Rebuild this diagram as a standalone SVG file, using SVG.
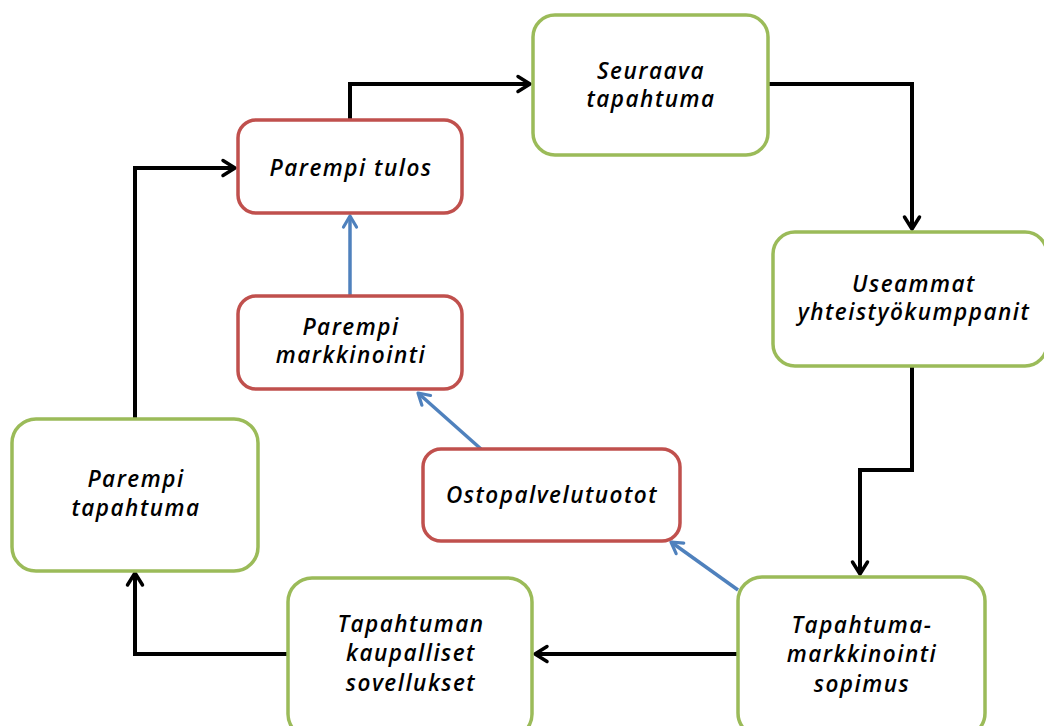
<svg xmlns="http://www.w3.org/2000/svg" width="1044" height="726" viewBox="0 0 1044 726">
  <defs>
    <marker id="arrowBlack" viewBox="0 0 20 20" refX="17" refY="10" markerWidth="20" markerHeight="20" markerUnits="userSpaceOnUse" orient="auto">
      <path d="M5,2.5 L17,10 L5,17.5" fill="none" stroke="#000" stroke-width="3.5" stroke-linecap="round" stroke-linejoin="round"/>
    </marker>
    <marker id="arrowBlue" viewBox="0 0 20 20" refX="17" refY="10" markerWidth="20" markerHeight="20" markerUnits="userSpaceOnUse" orient="auto">
      <path d="M6,3.5 L17,10 L6,16.5" fill="none" stroke="#4F81BD" stroke-width="3.2" stroke-linecap="round" stroke-linejoin="round"/>
    </marker>
  </defs>
  <style>
    .green { fill: #fff; stroke: #9BBB59; stroke-width: 3.5; }
    .red { fill: #fff; stroke: #C0504D; stroke-width: 3.5; }
    .label { font-family: "Open Sans", "Noto Sans", sans-serif; font-style: italic; font-weight: 600; font-size: 22.5px; letter-spacing: 1.5px; fill: #000; text-anchor: middle; }
    .flow { fill: none; stroke: #000; stroke-width: 4; stroke-linejoin: miter; marker-end: url(#arrowBlack); }
    .support { fill: none; stroke: #4F81BD; stroke-width: 3.5; marker-end: url(#arrowBlue); }
  </style>
  <rect width="1044" height="726" fill="#fff"/>

  <g id="connectors">
    <path class="flow" d="M350,120 V84 H530"/>
    <path class="flow" d="M768,84 H912 V229"/>
    <path class="flow" d="M912,366 V470 H860 V574"/>
    <path class="flow" d="M738,654 H535"/>
    <path class="flow" d="M288,654 H135 V573"/>
    <path class="flow" d="M135,419 V168 H235"/>
    <path class="support" d="M350,296 V216"/>
    <path class="support" d="M481,449 L418,393"/>
    <path class="support" d="M738,590 L671,542"/>
  </g>

  <g id="node-seuraava">
    <rect class="green" x="533" y="15" width="235" height="140" rx="22"/>
    <text class="label" x="651" y="79">Seuraava</text>
    <text class="label" x="651" y="107">tapahtuma</text>
  </g>
  <g id="node-parempi-tulos">
    <rect class="red" x="238" y="120" width="224" height="93" rx="18"/>
    <text class="label" x="351" y="176">Parempi tulos</text>
  </g>
  <g id="node-useammat">
    <rect class="green" x="773" y="232" width="274" height="134" rx="22"/>
    <text class="label" x="914" y="292">Useammat</text>
    <text class="label" x="914" y="320">yhteistyökumppanit</text>
  </g>
  <g id="node-parempi-markkinointi">
    <rect class="red" x="238" y="296" width="224" height="93" rx="18"/>
    <text class="label" x="351" y="335">Parempi</text>
    <text class="label" x="351" y="363">markkinointi</text>
  </g>
  <g id="node-parempi-tapahtuma">
    <rect class="green" x="12" y="419" width="246" height="152" rx="24"/>
    <text class="label" x="136" y="487">Parempi</text>
    <text class="label" x="136" y="516">tapahtuma</text>
  </g>
  <g id="node-ostopalvelutuotot">
    <rect class="red" x="423" y="449" width="257" height="92" rx="18"/>
    <text class="label" x="552" y="503">Ostopalvelutuotot</text>
  </g>
  <g id="node-kaupalliset">
    <rect class="green" x="288" y="578" width="244" height="160" rx="24"/>
    <text class="label" x="411" y="632">Tapahtuman</text>
    <text class="label" x="411" y="661">kaupalliset</text>
    <text class="label" x="411" y="691">sovellukset</text>
  </g>
  <g id="node-sopimus">
    <rect class="green" x="738" y="577" width="247" height="160" rx="24"/>
    <text class="label" x="862" y="633">Tapahtuma-</text>
    <text class="label" x="862" y="662">markkinointi</text>
    <text class="label" x="862" y="692">sopimus</text>
  </g>
</svg>
